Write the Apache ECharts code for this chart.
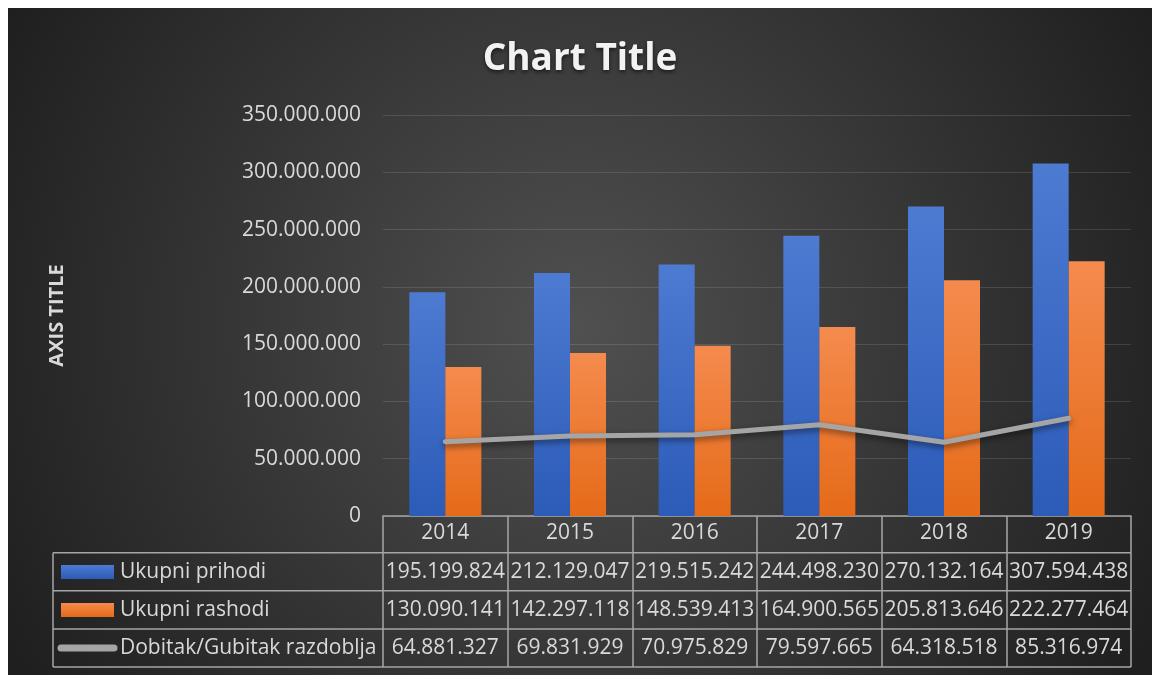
<!DOCTYPE html>
<html>
<head>
<meta charset="utf-8">
<script src="https://cdn.jsdelivr.net/npm/echarts@6/dist/echarts.min.js"></script>
<style>
body{margin:8px 0 0 8px;background:#fff;overflow:hidden}
#main{width:1144px;height:667px}
</style>
</head>
<body>
<div id="main"></div>
<script>
// data
const years = ['2014', '2015', '2016', '2017', '2018', '2019'];
const prihodi = [195199824, 212129047, 219515242, 244498230, 270132164, 307594438];
const rashodi = [130090141, 142297118, 148539413, 164900565, 205813646, 222277464];
const dobitak = [64881327, 69831929, 70975829, 79597665, 64318518, 85316974];
const seriesNames = ['Ukupni prihodi', 'Ukupni rashodi', 'Dobitak/Gubitak razdoblja'];

const FONT = '"Open Sans", sans-serif';
const TXT = '#d9d9d9';
const LINE = '#a6a6a6';

function fmt(v) {
    return String(v).replace(/\B(?=(\d{3})+(?!\d))/g, '.');
}

const chart = echarts.init(document.getElementById('main'));

const options = {
    backgroundColor: {
        type: 'radial', x: 0.5, y: 0.48, r: 0.98,
        colorStops: [
            { offset: 0, color: '#505050' },
            { offset: 1, color: '#1f1f1f' }
        ]
    },
    animation: false,
    title: {
        text: 'Chart Title',
        left: 'center',
        top: 28,
        textStyle: {
            color: '#f2f2f2', fontFamily: FONT, fontWeight: 'bold', fontSize: 37,
            textShadowColor: 'rgba(0,0,0,0.6)', textShadowBlur: 4, textShadowOffsetY: 2
        }
    },
    grid: { left: 375, right: 21, top: 107, bottom: 159, containLabel: false },
    xAxis: {
        type: 'category',
        data: years,
        axisLine: { lineStyle: { color: LINE, width: 1.5 } },
        axisTick: { show: true, length: 151, lineStyle: { color: LINE, width: 1.5 } },
        axisLabel: { color: TXT, fontFamily: FONT, fontSize: 21, margin: 7 }
    },
    yAxis: {
        type: 'value',
        min: 0, max: 350000000, interval: 50000000,
        name: 'AXIS TITLE',
        nameLocation: 'middle',
        nameRotate: 90,
        nameGap: 316,
        nameTextStyle: { color: TXT, fontFamily: FONT, fontWeight: 'bold', fontSize: 20 },
        axisLine: { show: false },
        axisTick: { show: false },
        axisLabel: { color: TXT, fontFamily: FONT, fontSize: 21, margin: 22, formatter: v => fmt(v) },
        splitLine: { lineStyle: { color: 'rgba(255,255,255,0.12)', width: 1 } }
    },
    series: [
        {
            name: seriesNames[0], type: 'bar', data: prihodi, barWidth: 36, barGap: 0,
            itemStyle: { color: new echarts.graphic.LinearGradient(0, 0, 0, 1, [
                { offset: 0, color: '#4d7bd2' }, { offset: 1, color: '#2c5bb8' }]) }
        },
        {
            name: seriesNames[1], type: 'bar', data: rashodi, barWidth: 36, barGap: 0,
            itemStyle: { color: new echarts.graphic.LinearGradient(0, 0, 0, 1, [
                { offset: 0, color: '#f48b4e' }, { offset: 1, color: '#e56a18' }]) }
        },
        {
            name: seriesNames[2], type: 'line', data: dobitak, symbol: 'none', z: 5,
            lineStyle: { color: '#a5a5a5', width: 5, cap: 'round',
                shadowColor: 'rgba(0,0,0,0.5)', shadowBlur: 6, shadowOffsetY: 3 }
        }
    ]
};
chart.setOption(options);

// data table under the plot
const rows = [prihodi, rashodi, dobitak];
const rowY = [544.7, 582.7, 621, 659];
const tableLeft = 45, plotRight = 1144 - 21;
const graphic = [];
rowY.forEach(y => {
    graphic.push({ type: 'line', shape: { x1: tableLeft, y1: y, x2: plotRight, y2: y },
        style: { stroke: LINE, lineWidth: 1.5 } });
});
graphic.push({ type: 'line', shape: { x1: tableLeft, y1: rowY[0], x2: tableLeft, y2: rowY[3] },
    style: { stroke: LINE, lineWidth: 1.5 } });
rows.forEach((vals, r) => {
    const cy = (rowY[r] + rowY[r + 1]) / 2;
    vals.forEach((v, i) => {
        const cx = chart.convertToPixel({ xAxisIndex: 0 }, years[i]);
        graphic.push({ type: 'text', x: cx, y: cy,
            style: { text: fmt(v), fill: TXT, font: '21px ' + FONT, align: 'center', verticalAlign: 'middle' } });
    });
    graphic.push({ type: 'text', x: 112, y: cy,
        style: { text: seriesNames[r], fill: TXT, font: '21px ' + FONT, align: 'left', verticalAlign: 'middle' } });
});
// legend keys
graphic.push({ type: 'rect', shape: { x: 53, y: 557, width: 53, height: 14 },
    style: { fill: new echarts.graphic.LinearGradient(0, 0, 0, 1, [
        { offset: 0, color: '#4d7bd2' }, { offset: 1, color: '#2c5bb8' }]) } });
graphic.push({ type: 'rect', shape: { x: 53, y: 595, width: 53, height: 14 },
    style: { fill: new echarts.graphic.LinearGradient(0, 0, 0, 1, [
        { offset: 0, color: '#f48b4e' }, { offset: 1, color: '#e56a18' }]) } });
graphic.push({ type: 'line', shape: { x1: 53, y1: 640, x2: 106, y2: 640 },
    style: { stroke: '#a5a5a5', lineWidth: 7, lineCap: 'round' } });

chart.setOption({ graphic: graphic });
</script>
</body>
</html>
